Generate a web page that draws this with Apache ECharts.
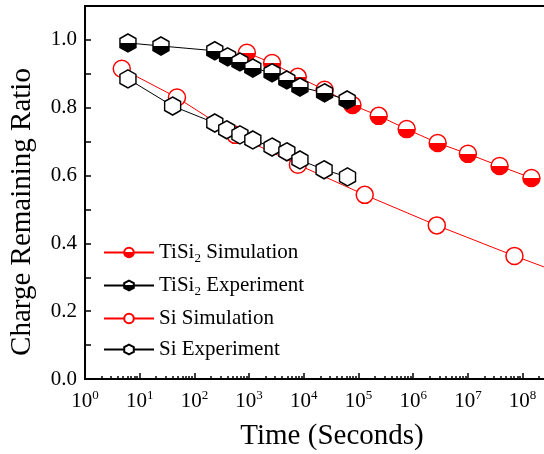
<!DOCTYPE html>
<html>
<head>
<meta charset="utf-8">
<script src="https://cdn.jsdelivr.net/npm/echarts@6/dist/echarts.min.js"></script>
<style>
  html, body { margin: 0; padding: 0; background: #fff; }
  #chart { width: 544px; height: 454px; }
</style>
</head>
<body>
<div id="chart"></div>
<script>
// values
const seriesNames = ['TiSi2 Simulation', 'TiSi2 Experiment', 'Si Simulation', 'Si Experiment'];

const timeTiSi2Sim = [910, 2630, 7760, 24000, 77600, 234000, 760000, 2.8e6, 1.0e7, 3.8e7, 1.45e8];
const ratioTiSi2Sim = [0.962, 0.932, 0.891, 0.853, 0.808, 0.776, 0.737, 0.696, 0.664, 0.628, 0.593];

const timeTiSi2Exp = [6.1, 24.5, 236, 405, 680, 1170, 2630, 4900, 8500, 24000, 62000];
const ratioTiSi2Exp = [0.991, 0.982, 0.968, 0.95, 0.935, 0.917, 0.903, 0.882, 0.861, 0.844, 0.823];

const timeSiSim = [4.7, 48, 560, 7800, 1.3e5, 2.7e6, 7.1e7, 2.5e9];
const ratioSiSim = [0.915, 0.83, 0.72, 0.632, 0.543, 0.453, 0.363, 0.27];

const timeSiExp = [6.1, 40, 236, 390, 680, 1170, 2630, 4900, 8500, 23500, 63000];
const ratioSiExp = [0.885, 0.805, 0.755, 0.735, 0.72, 0.705, 0.684, 0.67, 0.646, 0.617, 0.596];

const xMajorTicks = [1, 1e1, 1e2, 1e3, 1e4, 1e5, 1e6, 1e7, 1e8, 1e9, 1e10];

let xMinorTicks = [];
for (let k = 0; k < 10; k++) {
  for (let m = 2; m <= 9; m++) {
    xMinorTicks.push(m * Math.pow(10, k));
  }
}

function pairs(xs, ys) {
  return xs.map((x, i) => [x, ys[i]]);
}

const hexagon = 'path://M0,-1 L0.866,-0.5 L0.866,0.5 L0,1 L-0.866,0.5 L-0.866,-0.5 Z';
const serif = 'Liberation Serif';

function halfFill(bottom) {
  return new echarts.graphic.LinearGradient(0, 0, 0, 1, [
    { offset: 0, color: '#fff' },
    { offset: 0.5, color: '#fff' },
    { offset: 0.5, color: bottom },
    { offset: 1, color: bottom },
  ]);
}

let myChart = echarts.init(document.getElementById('chart'));
var option;
option = {
  animation: false,
  backgroundColor: '#fff',
  textStyle: { fontFamily: serif },
  grid: {
    left: 85,
    right: -88,
    top: 6,
    bottom: 75,
    outerBoundsMode: 'none',
    show: true,
    borderColor: '#000',
    borderWidth: 2,
  },
  legend: {
    orient: 'vertical',
    left: 98,
    top: 237,
    itemWidth: 50,
    itemHeight: 12,
    itemGap: 10,
    data: seriesNames,
    formatter: (name) => {
      return name.replace('TiSi2', 'TiSi{sub|2}');
    },
    textStyle: {
      fontFamily: serif,
      fontSize: 21,
      color: '#000',
      rich: {
        sub: {
          fontFamily: serif,
          fontSize: 13,
          padding: [12, 0, 0, 0],
        },
      },
    },
  },
  xAxis: [
    {
      type: 'log',
      logBase: 10,
      min: 1,
      max: 1e10,
      name: 'Time (Seconds)',
      nameLocation: 'middle',
      nameGap: 43,
      nameTextStyle: {
        fontFamily: serif,
        fontSize: 29,
        color: '#000',
        padding: [0, 53, 0, 0],
      },
      axisLine: {
        lineStyle: { color: '#000', width: 2 },
      },
      axisTick: {
        inside: true,
        length: 6,
        customValues: xMajorTicks,
        lineStyle: { color: '#000', width: 1.5 },
      },
      axisLabel: {
        customValues: xMajorTicks,
        margin: 10,
        fontFamily: serif,
        formatter: (v) => {
          return '{b|10}{s|' + Math.round(Math.log10(v)) + '}';
        },
        rich: {
          b: { fontFamily: serif, fontSize: 21, color: '#000' },
          s: { fontFamily: serif, fontSize: 13, color: '#000', padding: [0, 0, 12, 0] },
        },
      },
      splitLine: { show: false },
    },
    {
      type: 'log',
      logBase: 10,
      min: 1,
      max: 1e10,
      position: 'bottom',
      axisLine: { show: false },
      axisLabel: { show: false },
      axisTick: {
        inside: true,
        length: 3,
        customValues: xMinorTicks,
        lineStyle: { color: '#000', width: 1.5 },
      },
      splitLine: { show: false },
    },
  ],
  yAxis: {
    type: 'value',
    min: 0,
    max: 1.1,
    interval: 0.1,
    name: 'Charge Remaining Ratio',
    nameLocation: 'middle',
    nameGap: 48,
    nameTextStyle: {
      fontFamily: serif,
      fontSize: 29,
      color: '#000',
      padding: [0, 39, 0, 0],
    },
    axisLine: {
      show: true,
      lineStyle: { color: '#000', width: 2 },
    },
    axisTick: {
      inside: true,
      length: 6,
      lineStyle: { color: '#000', width: 1.5 },
    },
    axisLabel: {
      fontFamily: serif,
      fontSize: 21,
      color: '#000',
      margin: 8,
      formatter: (v) => {
        return Math.round(v * 10) % 2 === 0 ? v.toFixed(1) : '';
      },
    },
    splitLine: { show: false },
  },
  series: [
    {
      name: seriesNames[0],
      type: 'line',
      data: pairs(timeTiSi2Sim, ratioTiSi2Sim),
      symbol: 'circle',
      symbolSize: 17,
      lineStyle: { color: '#ff0000', width: 1 },
      itemStyle: { color: halfFill('#ff0000'), borderColor: '#ff0000', borderWidth: 1.5 },
    },
    {
      name: seriesNames[1],
      type: 'line',
      data: pairs(timeTiSi2Exp, ratioTiSi2Exp),
      symbol: hexagon,
      symbolSize: [16, 18],
      lineStyle: { color: '#000', width: 1 },
      itemStyle: { color: halfFill('#000'), borderColor: '#000', borderWidth: 1.5 },
    },
    {
      name: seriesNames[2],
      type: 'line',
      data: pairs(timeSiSim, ratioSiSim),
      symbol: 'circle',
      symbolSize: 17,
      lineStyle: { color: '#ff0000', width: 1 },
      itemStyle: { color: '#fff', borderColor: '#ff0000', borderWidth: 1.5 },
    },
    {
      name: seriesNames[3],
      type: 'line',
      data: pairs(timeSiExp, ratioSiExp),
      symbol: hexagon,
      symbolSize: [16, 18],
      lineStyle: { color: '#000', width: 1 },
      itemStyle: { color: '#fff', borderColor: '#000', borderWidth: 1.5 },
    },
  ],
};
option && myChart.setOption(option);
window.addEventListener('resize', () => {
  myChart.resize();
});
</script>
</body>
</html>
